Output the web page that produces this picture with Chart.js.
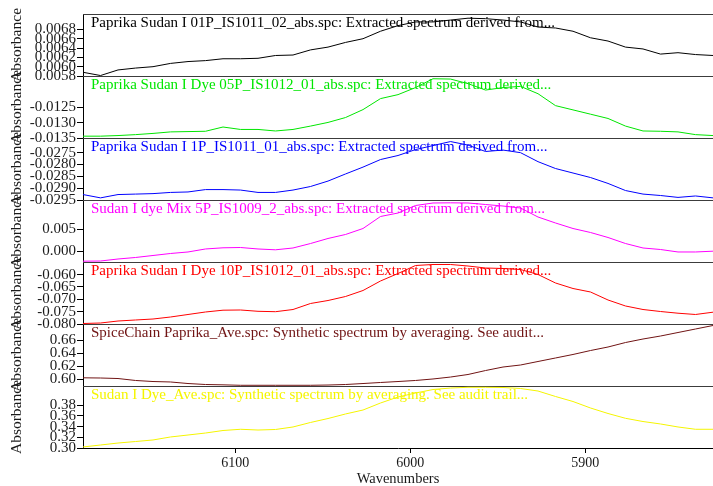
<!DOCTYPE html>
<html>
<head>
<meta charset="utf-8">
<script src="https://cdn.jsdelivr.net/npm/chart.js@4/dist/chart.umd.min.js"></script>
<style>
  html, body { margin: 0; padding: 0; background: #ffffff; }
  #wrap { width: 713px; height: 486px; }
</style>
</head>
<body>
<div id="wrap"><canvas id="c" width="713" height="486"></canvas></div>
<script>
// Shared wavenumber grid (cm-1), high to low
const wavenumbers = [6187, 6177, 6167, 6157, 6147, 6137, 6127, 6117, 6107, 6097, 6087, 6077, 6067,
  6057, 6047, 6037, 6027, 6017, 6007, 5997, 5987, 5977, 5967, 5957, 5947, 5937, 5927, 5917, 5907,
  5897, 5887, 5877, 5867, 5857, 5847, 5837, 5827];

// Absorbance of each spectrum on the grid above
const sudan01P = [0.00588, 0.00581, 0.00593, 0.00597, 0.00600, 0.00607, 0.00611, 0.00613, 0.00617, 0.00617,
  0.00618, 0.00624, 0.00625, 0.00636, 0.00642, 0.00652, 0.00660, 0.00676, 0.00688, 0.00696, 0.00696, 0.00700,
  0.00704, 0.00703, 0.00700, 0.00696, 0.00685, 0.00683, 0.00676, 0.00662, 0.00655, 0.00642, 0.00638, 0.00627,
  0.00630, 0.00626, 0.00624];
const dye05P = [-0.01344, -0.01344, -0.01342, -0.01339, -0.01335, -0.01330, -0.01329, -0.01328, -0.01314, -0.01322,
  -0.01322, -0.01327, -0.01322, -0.01311, -0.01299, -0.01283, -0.01257, -0.01221, -0.01208, -0.01185, -0.01156,
  -0.01157, -0.01172, -0.01193, -0.01185, -0.01181, -0.01205, -0.01244, -0.01258, -0.01272, -0.01286, -0.01311,
  -0.01327, -0.01328, -0.01330, -0.01339, -0.01342];
const sudan1P = [-0.02927, -0.02941, -0.02927, -0.02925, -0.02923, -0.02918, -0.02916, -0.02906, -0.02906, -0.02908,
  -0.02918, -0.02918, -0.02908, -0.02893, -0.02870, -0.02840, -0.02811, -0.02779, -0.02762, -0.02737, -0.02720,
  -0.02703, -0.02718, -0.02745, -0.02739, -0.02750, -0.02788, -0.02817, -0.02836, -0.02855, -0.02880, -0.02910,
  -0.02925, -0.02931, -0.02939, -0.02933, -0.02941];
const dyeMix5P = [-0.00230, -0.00226, -0.00180, -0.00145, -0.00099, -0.00053, -0.00018, 0.00051, 0.00078, 0.00085,
  0.00051, 0.00032, 0.00074, 0.00177, 0.00293, 0.00385, 0.00523, 0.00800, 0.00880, 0.01053, 0.01111, 0.01115,
  0.01111, 0.01076, 0.01041, 0.00995, 0.00788, 0.00650, 0.00523, 0.00431, 0.00316, 0.00177, 0.00074, 0.00039,
  -0.00018, -0.00018, 0.00000];
const dye10P = [-0.07980, -0.07960, -0.07879, -0.07838, -0.07798, -0.07717, -0.07615, -0.07514, -0.07441, -0.07433,
  -0.07486, -0.07502, -0.07413, -0.07170, -0.07049, -0.06887, -0.06644, -0.06259, -0.05955, -0.05632, -0.05591,
  -0.05591, -0.05652, -0.05733, -0.05753, -0.05794, -0.05996, -0.06340, -0.06563, -0.06704, -0.07028, -0.07271,
  -0.07413, -0.07494, -0.07563, -0.07615, -0.07522];
const paprikaAve = [0.6026, 0.6023, 0.6015, 0.5985, 0.5969, 0.5962, 0.5938, 0.5923, 0.5918, 0.5911,
  0.5911, 0.5911, 0.5911, 0.5911, 0.5915, 0.5923, 0.5938, 0.5954, 0.5969, 0.5985, 0.6008, 0.6038,
  0.6077, 0.6138, 0.6192, 0.6223, 0.6277, 0.6331, 0.6385, 0.6446, 0.6500, 0.6569, 0.6623, 0.6669,
  0.6723, 0.6777, 0.6831];
const dyeAve = [0.3019, 0.3056, 0.3093, 0.3121, 0.3150, 0.3206, 0.3243, 0.3280, 0.3327, 0.3350,
  0.3336, 0.3346, 0.3393, 0.3477, 0.3551, 0.3636, 0.3710, 0.3841, 0.3953, 0.4028, 0.4093, 0.4121,
  0.4135, 0.4135, 0.4131, 0.4112, 0.4065, 0.3963, 0.3869, 0.3748, 0.3645, 0.3555, 0.3495, 0.3449,
  0.3393, 0.3350, 0.3350];

// Spectrum captions, top panel first
const captions = [
  'Paprika Sudan I 01P_IS1011_02_abs.spc: Extracted spectrum derived from...',
  'Paprika Sudan I Dye 05P_IS1012_01_abs.spc: Extracted spectrum derived...',
  'Paprika Sudan I 1P_IS1011_01_abs.spc: Extracted spectrum derived from...',
  'Sudan I dye Mix 5P_IS1009_2_abs.spc: Extracted spectrum derived from...',
  'Paprika Sudan I Dye 10P_IS1012_01_abs.spc: Extracted spectrum derived...',
  'SpiceChain Paprika_Ave.spc: Synthetic spectrum by averaging. See audit...',
  'Sudan I Dye_Ave.spc: Synthetic spectrum by averaging. See audit trail...'
];

// Tick labels per panel and their axis ranges
const ticks01P = ['0.0058', '0.0060', '0.0062', '0.0064', '0.0066', '0.0068'];
const ticks05P = ['-0.0135', '-0.0130', '-0.0125'];
const ticks1P = ['-0.0295', '-0.0290', '-0.0285', '-0.0280', '-0.0275'];
const ticksMix = ['0.000', '0.005'];
const ticks10P = ['-0.080', '-0.075', '-0.070', '-0.065', '-0.060'];
const ticksPaprika = ['0.60', '0.62', '0.64', '0.66'];
const ticksDye = ['0.30', '0.32', '0.34', '0.36', '0.38'];
const xTickValues = [6100, 6000, 5900];

const ranges = [
  [0.0058, 0.00713],
  [-0.0135, -0.01147],
  [-0.0295, -0.02688],
  [-0.00249, 0.0118],
  [-0.080, -0.0549],
  [0.590, 0.6854],
  [0.300, 0.4159]
];

const series = [sudan01P, dye05P, sudan1P, dyeMix5P, dye10P, paprikaAve, dyeAve];
const tickSets = [ticks01P, ticks05P, ticks1P, ticksMix, ticks10P, ticksPaprika, ticksDye];

// Line / caption colours, top panel first
const colors = ['#000000', '#00e600', '#0000ff', '#ff00ff', '#ff0000', '#701414', '#f5f500'];

const FONT = "'Liberation Serif', 'Times New Roman', serif";
const TEXT = '#1a1a1a';
Chart.defaults.font.family = FONT;
Chart.defaults.color = TEXT;

const panelIds = series.map((_, i) => 'p' + i);

const scales = {
  x: {
    type: 'linear',
    reverse: true,
    min: 5827,
    max: 6187,
    afterBuildTicks: s => { s.ticks = xTickValues.map(v => ({ value: v })); },
    afterFit: s => { s.height = 38; },
    ticks: { font: { size: 14 }, color: TEXT, padding: 2, maxRotation: 0, autoSkip: false,
             callback: v => String(v) },
    grid: { drawOnChartArea: false, drawTicks: true, tickLength: 5, color: '#000' },
    border: { display: true, color: '#000' },
    title: { display: true, text: 'Wavenumbers', color: TEXT,
             font: { size: 14.5, lineHeight: 1 }, padding: { top: 0, bottom: 0 } }
  }
};

panelIds.forEach((id, i) => {
  const labels = tickSets[i];
  scales[id] = {
    type: 'linear',
    position: 'left',
    stack: 'panels',
    stackWeight: 1,
    weight: panelIds.length - i,
    offset: false,
    min: ranges[i][0],
    max: ranges[i][1],
    afterBuildTicks: s => { s.ticks = labels.map(t => ({ value: parseFloat(t) })); },
    afterFit: s => { s.width = 83; },
    ticks: { font: { size: 15 }, color: TEXT, padding: 1, autoSkip: false,
             callback: (v, idx) => labels[idx] },
    grid: { drawOnChartArea: false, drawTicks: true, tickLength: 6, color: '#000' },
    border: { display: true, color: '#000' },
    title: { display: true, text: 'Absorbance', color: TEXT,
             font: { size: 15.5, lineHeight: 1 }, padding: { top: 9, bottom: 0 } }
  };
});

// Panel frames and captions, drawn beneath the spectra
const panelFrames = {
  id: 'panelFrames',
  beforeDatasetsDraw(chart) {
    const { ctx, chartArea } = chart;
    ctx.save();
    panelIds.forEach((id, i) => {
      const s = chart.scales[id];
      const y = Math.round(s.top) + 0.5;
      ctx.strokeStyle = '#3c3c3c';
      ctx.lineWidth = 1;
      ctx.beginPath();
      ctx.moveTo(chartArea.left, y);
      ctx.lineTo(chartArea.right, y);
      ctx.stroke();
      ctx.fillStyle = colors[i];
      ctx.font = '15px ' + FONT;
      ctx.textBaseline = 'alphabetic';
      ctx.textAlign = 'left';
      ctx.fillText(captions[i], chartArea.left + 8, s.top + 12.5);
    });
    ctx.restore();
  }
};

new Chart(document.getElementById('c'), {
  type: 'line',
  data: {
    datasets: series.map((vals, i) => ({
      label: captions[i],
      data: vals.map((v, k) => ({ x: wavenumbers[k], y: v })),
      yAxisID: panelIds[i],
      borderColor: colors[i],
      borderWidth: 1,
      pointRadius: 0,
      tension: 0,
      fill: false
    }))
  },
  options: {
    responsive: false,
    devicePixelRatio: 1,
    animation: false,
    layout: { padding: { top: 14, left: 0, right: 0, bottom: 0 } },
    plugins: { legend: { display: false }, tooltip: { enabled: false } },
    scales
  },
  plugins: [panelFrames]
});
</script>
</body>
</html>
